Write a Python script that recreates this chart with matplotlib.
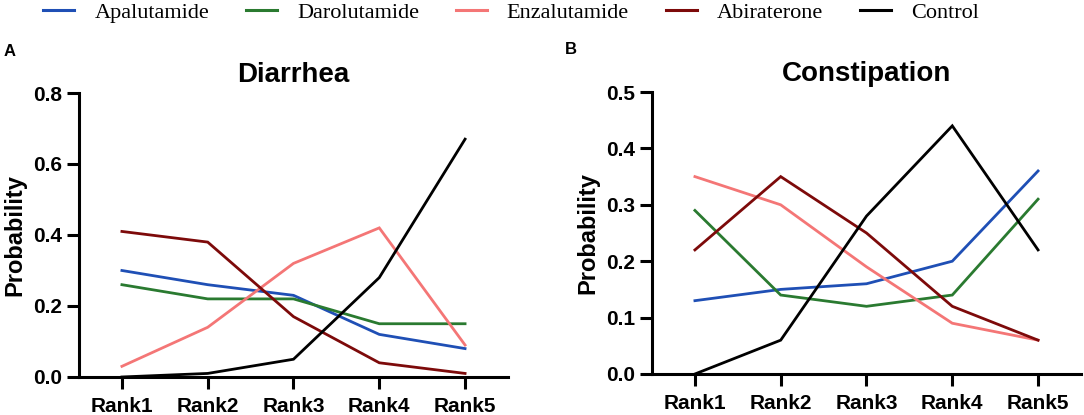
import matplotlib
matplotlib.use("Agg")
import matplotlib.pyplot as plt
from matplotlib.lines import Line2D

ranks = ["Rank1", "Rank2", "Rank3", "Rank4", "Rank5"]
series_names = ["Apalutamide", "Darolutamide", "Enzalutamide", "Abiraterone", "Control"]
colors = ["#1f4fb5", "#2a7a30", "#f47676", "#7d0a0a", "#000000"]

diarrhea_apalutamide = [0.30, 0.26, 0.23, 0.12, 0.08]
diarrhea_darolutamide = [0.26, 0.22, 0.22, 0.15, 0.15]
diarrhea_enzalutamide = [0.03, 0.14, 0.32, 0.42, 0.09]
diarrhea_abiraterone = [0.41, 0.38, 0.17, 0.04, 0.01]
diarrhea_control = [0.00, 0.01, 0.05, 0.28, 0.67]

constipation_apalutamide = [0.13, 0.15, 0.16, 0.20, 0.36]
constipation_darolutamide = [0.29, 0.14, 0.12, 0.14, 0.31]
constipation_enzalutamide = [0.35, 0.30, 0.19, 0.09, 0.06]
constipation_abiraterone = [0.22, 0.35, 0.25, 0.12, 0.06]
constipation_control = [0.00, 0.06, 0.28, 0.44, 0.22]

diarrhea = [diarrhea_apalutamide, diarrhea_darolutamide, diarrhea_enzalutamide,
            diarrhea_abiraterone, diarrhea_control]
constipation = [constipation_apalutamide, constipation_darolutamide, constipation_enzalutamide,
                constipation_abiraterone, constipation_control]

diarrhea_yticks = [0.0, 0.2, 0.4, 0.6, 0.8]
constipation_yticks = [0.0, 0.1, 0.2, 0.3, 0.4, 0.5]

plt.rcParams['font.family'] = ['Liberation Sans', 'DejaVu Sans']

fig = plt.figure(figsize=(10.84, 4.15), dpi=100)
axA = fig.add_axes([0.0729, 0.0916, 0.3957, 0.6843])
axB = fig.add_axes([0.6015, 0.0988, 0.3957, 0.6795])

x = list(range(1, 6))

def style(ax, data, yticks, title):
    for vals, c in zip(data, colors):
        ax.plot(x, vals, color=c, lw=2.0, solid_joinstyle='miter')
    ax.set_xlim(0.5, 5.5)
    ax.set_ylim(yticks[0], yticks[-1])
    ax.set_yticks(yticks)
    ax.set_yticklabels([f"{t:.1f}" for t in yticks])
    ax.set_xticks(x)
    ax.set_xticklabels(ranks)
    for s in ["top", "right"]:
        ax.spines[s].set_visible(False)
    for s in ["left", "bottom"]:
        ax.spines[s].set_linewidth(2.2)
        ax.spines[s].set_capstyle('projecting')
    ax.tick_params(axis='both', which='major', length=8.5, width=2.2,
                   labelsize=15, direction='out')
    ax.tick_params(axis='x', pad=6)
    for lab in ax.get_xticklabels() + ax.get_yticklabels():
        lab.set_fontweight('bold')
    ax.set_ylabel("Probability", fontsize=17, fontweight='bold', labelpad=5)
    ax.set_title(title, fontsize=20, fontweight='bold', pad=8)

style(axA, diarrhea, diarrhea_yticks, "Diarrhea")
style(axB, constipation, constipation_yticks, "Constipation")

fig.text(4 / 1084, 1 - 51 / 415, "A", fontsize=12, fontweight='bold', va='center', ha='left')
fig.text(565 / 1084, 1 - 50 / 415, "B", fontsize=12, fontweight='bold', va='center', ha='left')

handles = [Line2D([0], [0], color=c, lw=2.2) for c in colors]
fig.legend(handles, series_names, loc='center', ncol=5, frameon=False,
           bbox_to_anchor=(511 / 1084, 1 - 13 / 415),
           prop={'family': 'Liberation Serif', 'size': 16},
           handlelength=1.4, handletextpad=0.9, columnspacing=1.65)

fig.savefig("out.png", dpi=100)
